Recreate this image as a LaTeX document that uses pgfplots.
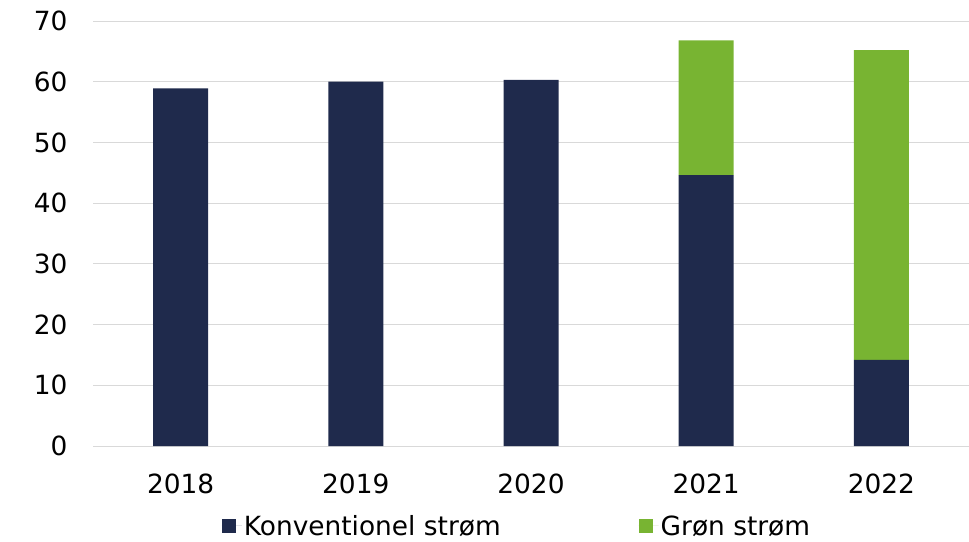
\documentclass[border=0pt]{standalone}
\usepackage{fontspec}
\setmainfont{DejaVu Sans}
\usepackage{pgfplots}
\pgfplotsset{compat=1.18}
\definecolor{navy}{HTML}{1F2A4C}
\definecolor{gruen}{HTML}{78B432}
\definecolor{gridgray}{HTML}{D9D9D9}
\begin{document}
\begin{tikzpicture}
\path[use as bounding box] (-93bp,-96bp) rectangle (876bp,446bp);
\begin{axis}[
    scale only axis,
    width=876bp, height=425bp,
    xmin=-0.5, xmax=4.5,
    ymin=0, ymax=70,
    ybar stacked,
    bar width=55bp,
    axis x line*=bottom,
    axis y line*=left,
    x axis line style={draw=gridgray, line width=1bp},
    y axis line style={draw=none},
    ytick={0,10,...,70},
    ymajorgrids,
    grid style={draw=gridgray, line width=1bp},
    xtick={0,1,2,3,4},
    xticklabels={2018,2019,2020,2021,2022},
    major tick length=0pt,
    /pgf/number format/assume math mode=true,
    tick label style={font=\fontsize{26.5}{31}\selectfont, text=black},
    yticklabel style={anchor=east, xshift=-22bp},
    xticklabel style={anchor=north, yshift=-24bp},
    legend style={at={(0.5,0)}, anchor=north, yshift=-65bp, xshift=-14bp, draw=none,
        font=\fontsize{26.5}{31}\selectfont, /tikz/every even column/.append style={column sep=136bp}},
    legend columns=2,
    legend image code/.code={\fill[#1] (0bp,-7bp) rectangle (14bp,7bp); \path (0bp,0bp) -- (20bp,0bp);},
    clip=false,
]
\addplot[fill=navy, draw=none] coordinates {(0,58.9) (1,60.0) (2,60.3) (3,44.6) (4,14.2)};
\addlegendentry{Konventionel strøm}
\addplot[fill=gruen, draw=none] coordinates {(0,0) (1,0) (2,0) (3,22.2) (4,51.0)};
\addlegendentry{Grøn strøm}
\end{axis}
\end{tikzpicture}
\end{document}
